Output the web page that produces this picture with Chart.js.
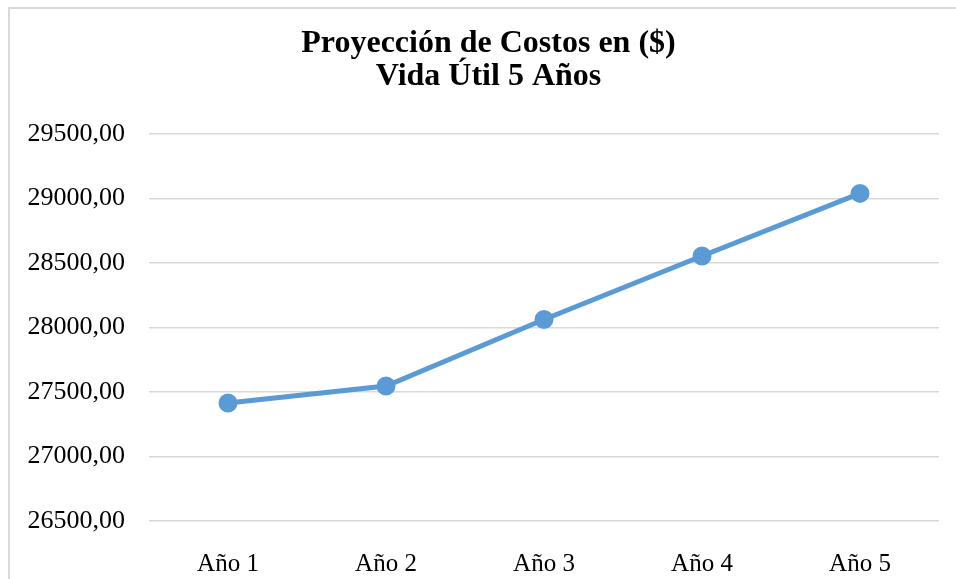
<!DOCTYPE html>
<html lang="es">
<head>
  <meta charset="UTF-8" />
  <title>Proyección de Costos</title>
  <script src="https://cdn.jsdelivr.net/npm/chart.js"></script>
  <style>
    body { margin: 0; background: #fff; }
    .wrap { position: relative; width: 956px; height: 579px; }
    .frame { position: absolute; left: 8px; top: 7px; right: 0; bottom: 0;
             border-left: 2px solid #d9d9d9; border-top: 2px solid #d9d9d9; pointer-events: none; }
  </style>
</head>
<body>
  <div class="wrap">
    <canvas id="costChart" width="956" height="579"></canvas>
    <div class="frame"></div>
  </div>

  <script>
    const years = ['Año 1', 'Año 2', 'Año 3', 'Año 4', 'Año 5'];
    const costs = [27415, 27546, 28062, 28554, 29039];
    const titleLines = ['Proyección de Costos en ($)', 'Vida Útil 5 Años'];

    const ctx = document.getElementById('costChart').getContext('2d');
    const serif = "'Liberation Serif', 'Times New Roman', serif";

    // centre the title over the frame rather than over the canvas
    const titleShift = {
      id: 'titleShift',
      afterLayout(chart) {
        chart.titleBlock.left = 21;
        chart.titleBlock.right = 956;
      }
    };

    new Chart(ctx, {
      type: 'line',
      data: {
        labels: years,
        datasets: [{
          data: costs,
          borderColor: '#5b9bd5',
          backgroundColor: '#5b9bd5',
          borderWidth: 5,
          pointRadius: 7,
          pointHoverRadius: 7,
          tension: 0
        }]
      },
      options: {
        responsive: false,
        animation: false,
        layout: { padding: { left: 0, right: 17, top: 0, bottom: 0 } },
        plugins: {
          legend: { display: false },
          tooltip: { enabled: false },
          title: {
            display: true,
            text: titleLines,
            color: '#000',
            font: { family: serif, size: 32, weight: 'bold', lineHeight: 1.03 },
            padding: { top: 27, bottom: 41 }
          }
        },
        scales: {
          x: {
            offset: true,
            grid: { display: false },
            border: { display: false },
            ticks: { color: '#000', font: { family: serif, size: 25 }, padding: 20 },
            afterFit: s => { s.height = 58; }
          },
          y: {
            min: 26500,
            max: 29500,
            grid: { color: '#d9d9d9', lineWidth: 1.5, drawTicks: false },
            border: { display: false },
            ticks: {
              stepSize: 500,
              color: '#000',
              padding: 24,
              font: { family: serif, size: 26 },
              callback: v => v.toFixed(2).replace('.', ',')
            },
            afterFit: s => { s.width = 149; }
          }
        }
      },
      plugins: [titleShift]
    });
  </script>
</body>
</html>
